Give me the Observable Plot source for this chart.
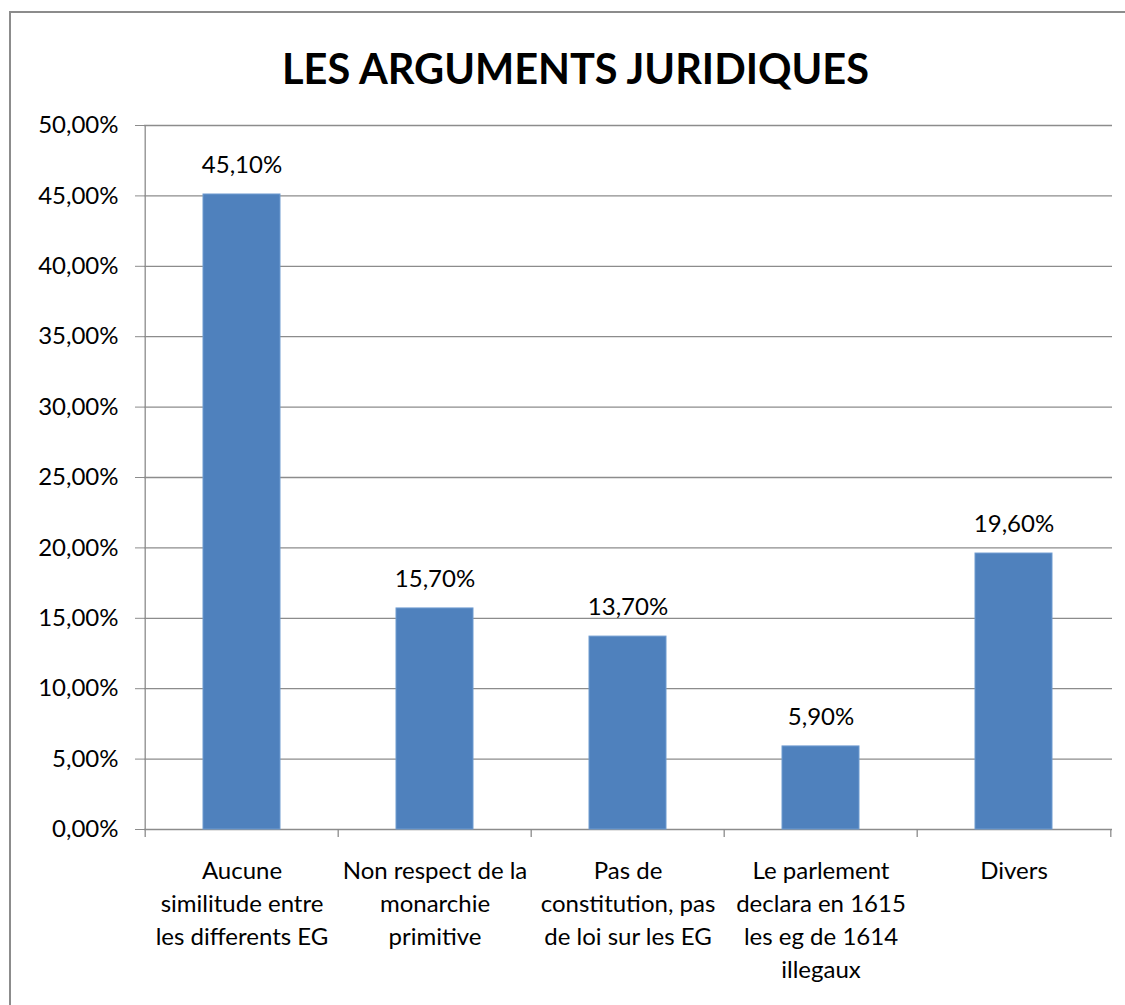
<!DOCTYPE html>
<html>
<head>
<meta charset="utf-8">
<script src="https://cdn.jsdelivr.net/npm/d3@7"></script>
<script src="https://cdn.jsdelivr.net/npm/@observablehq/plot@0.6"></script>
<style>
  html, body { margin: 0; padding: 0; background: #fff; overflow: hidden; }
  #wrap { position: relative; width: 1125px; height: 1005px; font-family: Lato, "Open Sans", sans-serif; }
  #border { position: absolute; left: 9px; top: 11px; width: 1200px; height: 1100px; border: 2px solid #8c8c8c; box-sizing: border-box; }
  #title { position: absolute; left: 0; width: 1151px; top: 38px; text-align: center; font-weight: bold; font-size: 41.5px; line-height: 60px; color: #000; }
  #chart { position: absolute; left: 0; top: 0; }
</style>
</head>
<body>
<div id="wrap">
  <div id="border"></div>
  <div id="title">LES ARGUMENTS JURIDIQUES</div>
  <div id="chart"></div>
</div>
<script>
const categories = [
  "Aucune\nsimilitude entre\nles differents EG",
  "Non respect de la\nmonarchie\nprimitive",
  "Pas de\nconstitution, pas\nde loi sur les EG",
  "Le parlement\ndeclara en 1615\nles eg de 1614\nillegaux",
  "Divers"
];
const values = [0.451, 0.157, 0.137, 0.059, 0.196];
const yTicks = [0, 0.05, 0.10, 0.15, 0.20, 0.25, 0.30, 0.35, 0.40, 0.45, 0.50];

const data = categories.map((c, i) => ({category: c, value: values[i]}));
const pct = d => (d * 100).toFixed(2).replace(".", ",") + "%";

const W = 1125, H = 1005, mL = 144, mR = 13, mT = 125, mB = 176;
const step = (W - mL - mR) / categories.length;
const plotH = H - mT - mB;
const tickLen = 8 * 0.5 / plotH; // 8px expressed in y units
const grid = "#8c8c8c";
const fs = 24;

const chart = Plot.plot({
  width: W,
  height: H,
  marginLeft: mL,
  marginRight: mR,
  marginTop: mT,
  marginBottom: mB,
  style: {fontFamily: "Lato, 'Open Sans', sans-serif", fontSize: fs + "px", color: "#000", background: "transparent"},
  x: {domain: categories, paddingInner: 0.6, paddingOuter: 0.3, axis: null},
  y: {domain: [0, 0.5], axis: null},
  marks: [
    Plot.ruleY(yTicks, {stroke: grid, strokeWidth: 1.3}),
    Plot.axisY(yTicks, {tickSize: 9, tickPadding: 17, stroke: grid, strokeOpacity: 1, fill: "#000", tickFormat: pct, fontSize: fs, label: null}),
    Plot.ruleX([categories[0]], {dx: -step / 2, stroke: grid, strokeWidth: 1.3}),
    Plot.ruleX(categories, {dx: -step / 2, y1: 0, y2: -tickLen, stroke: grid, strokeWidth: 1.3}),
    Plot.ruleX([categories[categories.length - 1]], {dx: step / 2, y1: 0, y2: -tickLen, stroke: grid, strokeWidth: 1.3}),
    Plot.barY(data, {x: "category", y: "value", fill: "#4f81bd", stroke: "#6f9bd0", strokeWidth: 1}),
    Plot.text(data, {x: "category", y: "value", text: d => pct(d.value), dy: -29, fontSize: fs, fill: "#000"}),
    Plot.text(categories, {x: d => d, y: 0, text: d => d, lineAnchor: "top", dy: 26, lineHeight: 1.375, fontSize: fs, fill: "#000"})
  ]
});
document.getElementById("chart").appendChild(chart);
</script>
</body>
</html>
